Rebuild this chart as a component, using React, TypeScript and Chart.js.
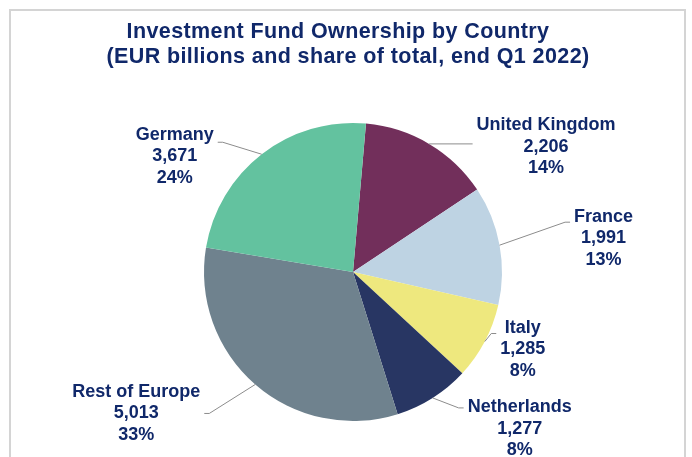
import React, { useEffect, useRef } from "react";
import { Chart, registerables } from "chart.js";

Chart.register(...registerables);

// ---- data ----
const categories = ["United Kingdom", "France", "Italy", "Netherlands", "Rest of Europe", "Germany"];
const valuesEurBn = [2206, 1991, 1285, 1277, 5013, 3671];
const sharePct = [14, 13, 8, 8, 33, 24];
const titleLines = ["Investment Fund Ownership by Country", "(EUR billions and share of total, end Q1 2022)"];

// ---- styling / layout ----
const sliceColors = ["#722F5B", "#BED3E3", "#EEE87E", "#283663", "#6F828E", "#63C29F"];
const textColor = "#10286A";
const labelOffsets: [number, number][] = [
  [117, 3],
  [104, -7],
  [38, 8],
  [87, 31],
  [-119, 29],
  [-87, 2],
];
const attachDy = [-3, -16, -16, -21, 0, -14];

const W = 692;
const H = 457;

const decorPlugin = {
  id: "decor",
  afterDraw(chart: any) {
    const ctx: CanvasRenderingContext2D = chart.ctx;
    ctx.save();

    // frame
    ctx.strokeStyle = "#D4D4D4";
    ctx.lineWidth = 2;
    ctx.beginPath();
    ctx.moveTo(10, H + 5);
    ctx.lineTo(10, 10);
    ctx.lineTo(685, 10);
    ctx.lineTo(685, H + 5);
    ctx.stroke();

    // title
    ctx.fillStyle = textColor;
    ctx.textAlign = "center";
    ctx.textBaseline = "alphabetic";
    ctx.font = 'bold 21.5px "Liberation Sans", Arial, sans-serif';
    try {
      (ctx as any).letterSpacing = "0.4px";
    } catch (e) {}
    ctx.fillText(titleLines[0], 338, 38);
    ctx.fillText(titleLines[1], 348, 63);
    try {
      (ctx as any).letterSpacing = "0px";
    } catch (e) {}

    // data labels with leader lines
    const meta = chart.getDatasetMeta(0);
    const lh = 21.5;
    ctx.font = 'bold 18px "Liberation Sans", Arial, sans-serif';
    meta.data.forEach((arc: any, i: number) => {
      const p = arc.getProps(["x", "y", "startAngle", "endAngle", "outerRadius"], true);
      const mid = (p.startAngle + p.endAngle) / 2;
      const ex = p.x + p.outerRadius * Math.cos(mid);
      const ey = p.y + p.outerRadius * Math.sin(mid);
      const off = labelOffsets[i];
      const cx = ex + off[0];
      const cy = ey + off[1];
      const lines = [categories[i], valuesEurBn[i].toLocaleString("en-US"), sharePct[i] + "%"];
      const w = Math.max(...lines.map((l) => ctx.measureText(l).width));
      const side = off[0] >= 0 ? -1 : 1;
      const ax = cx + side * (w / 2 + 4);
      const ay = cy + attachDy[i];
      const sx = ax + side * 5;

      ctx.strokeStyle = "#8C8C8C";
      ctx.lineWidth = 1;
      ctx.beginPath();
      ctx.moveTo(ex, ey);
      if (Math.abs(ay - ey) < 1.5) {
        ctx.lineTo(ax, ey);
      } else {
        ctx.lineTo(sx, ay);
        ctx.lineTo(ax, ay);
      }
      ctx.stroke();

      ctx.fillStyle = textColor;
      ctx.textAlign = "center";
      ctx.textBaseline = "middle";
      lines.forEach((l, k) => {
        ctx.fillText(l, cx, cy + (k - 1) * lh);
      });
    });

    ctx.restore();
  },
};

export default function App() {
  const ref = useRef<HTMLCanvasElement | null>(null);

  useEffect(() => {
    if (!ref.current) return;
    const chart = new Chart(ref.current, {
      type: "pie",
      data: {
        labels: categories,
        datasets: [
          {
            data: valuesEurBn,
            backgroundColor: sliceColors,
            borderWidth: 0,
            hoverOffset: 0,
          },
        ],
      },
      options: {
        responsive: false,
        animation: false,
        rotation: 5,
        layout: {
          padding: { left: 204, right: 190, top: 123, bottom: 36 },
        },
        plugins: {
          legend: { display: false },
          tooltip: { enabled: false },
          title: { display: false },
        },
        events: [],
      },
      plugins: [decorPlugin],
    });
    return () => chart.destroy();
  }, []);

  return (
    <div style={{ position: "absolute", left: 0, top: 0, width: W, height: H, background: "#fff" }}>
      <canvas ref={ref} width={W} height={H} style={{ display: "block", width: W, height: H }} />
    </div>
  );
}
